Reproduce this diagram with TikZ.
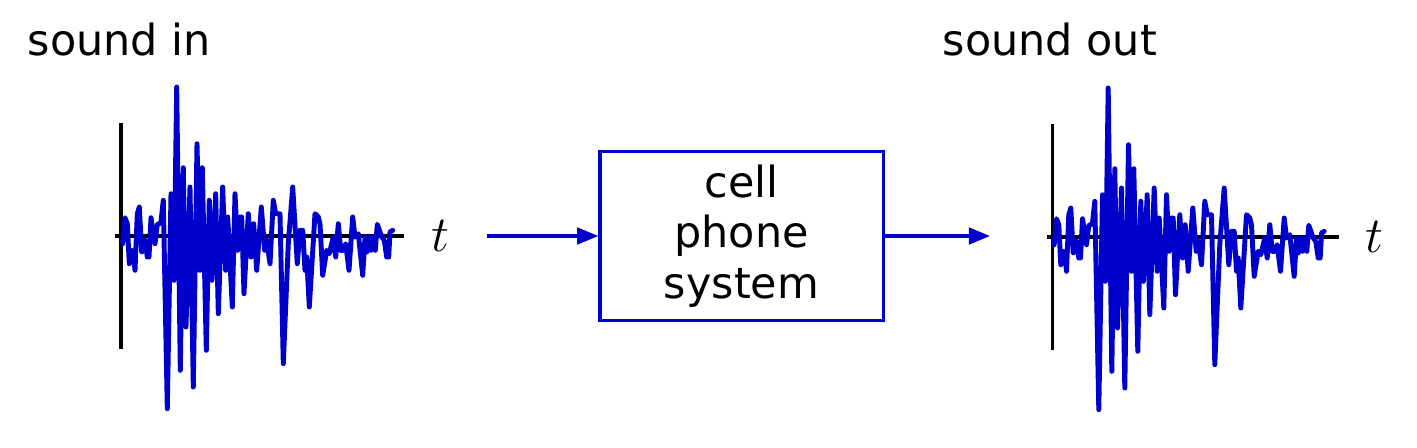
\documentclass[tikz,border=0pt]{standalone}
\usepackage{fontspec}
\setmainfont{DejaVu Sans}
\usepackage{tikz}
\usetikzlibrary{positioning, arrows.meta}
\definecolor{wavblue}{RGB}{0,0,204}
% campioni del segnale (px rispetto all'origine degli assi)
\newcommand{\sndwave}{(1.7,-7.7) -- (4,18.3) -- (6.3,12.3) -- (8.3,-27.7) -- (10.7,-14.3) -- (12.3,-16) -- (14,-34.3) -- (16.3,22.3) -- (18.3,29) -- (20.7,-16) -- (22.3,-14.3) -- (24,-4.3) -- (26.3,-21) -- (28,-21) -- (30,18.3) -- (32.3,2.3) -- (34,-7.7) -- (36.3,11.7) -- (38.3,12.3) -- (40,14) -- (42.3,35.7) -- (46.3,-172.7) -- (50,42.3) -- (53,-44.3) -- (55.7,149) -- (59.3,-134.3) -- (62.3,68.3) -- (65,-91) -- (69,49) -- (72.3,-151) -- (76,92.3) -- (79,-34.3) -- (81.3,68.3) -- (85.3,-114.3) -- (88.3,35.7) -- (91,-44.3) -- (94.7,42.3) -- (97.3,-77.7) -- (101.7,49) -- (104.7,-34.3) -- (106.7,19) -- (111.3,-71) -- (114,42.3) -- (116.7,-14.3) -- (119,19) -- (120.7,19) -- (123,-57.7) -- (127.3,22.3) -- (130,-21) -- (132.7,12.3) -- (135.7,-34.3) -- (140.3,29) -- (143.7,-14.3) -- (145.7,-4.3) -- (149,-27.7) -- (152.3,35.7) -- (154.7,22.3) -- (159,22.3) -- (162.3,-127.7) -- (167.3,-7.7) -- (171.7,49) -- (176.3,-27.7) -- (179,5.7) -- (181.7,5.7) -- (184,-34.3) -- (185.7,-21) -- (188.3,-71) -- (194,22.3) -- (197.3,19) -- (199,12.3) -- (201.7,-39.3) -- (205.7,-14.3) -- (208.3,-17.7) -- (212.3,-1) -- (214.7,-21) -- (217.3,12.3) -- (219.7,-14.3) -- (222.3,-14.3) -- (224.7,-7.7) -- (228,-34.3) -- (231.7,19) -- (234,-1) -- (237.3,2.3) -- (241.7,-39.3) -- (244,-1) -- (245.7,-16) -- (248.3,-1) -- (250,-14.3) -- (252.3,-1) -- (254.3,-14.3) -- (256.3,11.7) -- (260.7,-1) -- (263.3,-4.3) -- (265.7,-21) -- (267.7,-21) -- (269,4) -- (271.7,5.7)}

\begin{document}
\begin{tikzpicture}[x=0.01cm, y=0.01cm, font=\fontsize{12.2}{14.4}\selectfont,
    axis/.style={line width=0.9pt},
    signal/.style={draw=wavblue, line width=1.4pt, line join=round, line cap=round},
    flow/.style={draw=wavblue, line width=0.9pt, -{Triangle[length=6pt,width=4.7pt]}},
    tlabel/.style={font=\fontsize{14}{16}\selectfont}]
    \useasboundingbox (0,0) rectangle (1417,447);

    % segnale in ingresso
    \begin{scope}[shift={(121,211)}]
        \draw[axis] (0,-113) -- (0,113);
        \draw[axis] (-6,0) -- (283,0);
        \draw[signal] \sndwave;
        \node[tlabel] (tin) at (319,0) {$t$};
    \end{scope}
    \node[anchor=base west, inner sep=0pt] (lblin) at (27,392) {sound in};

    % sistema
    \node[draw=wavblue, line width=0.9pt, minimum width=2.83cm, minimum height=1.69cm,
          inner sep=0pt, align=center] (phone) at (741.5,211) {cell\\phone\\system};
    \coordinate (src) at (487,211);
    \coordinate (dst) at (990,211);
    \draw[flow] (src) -- (phone.west);
    \draw[flow] (phone.east) -- (dst);

    % segnale in uscita
    \begin{scope}[shift={(1052.5,210)}]
        \draw[axis] (0,-113) -- (0,113);
        \draw[axis] (-6,0) -- (286,0);
        \draw[signal] \sndwave;
        \node[tlabel] (tout) at (322,0) {$t$};
    \end{scope}
    \node[anchor=base west, inner sep=0pt] (lblout) at (942,392) {sound out};
\end{tikzpicture}
\end{document}
